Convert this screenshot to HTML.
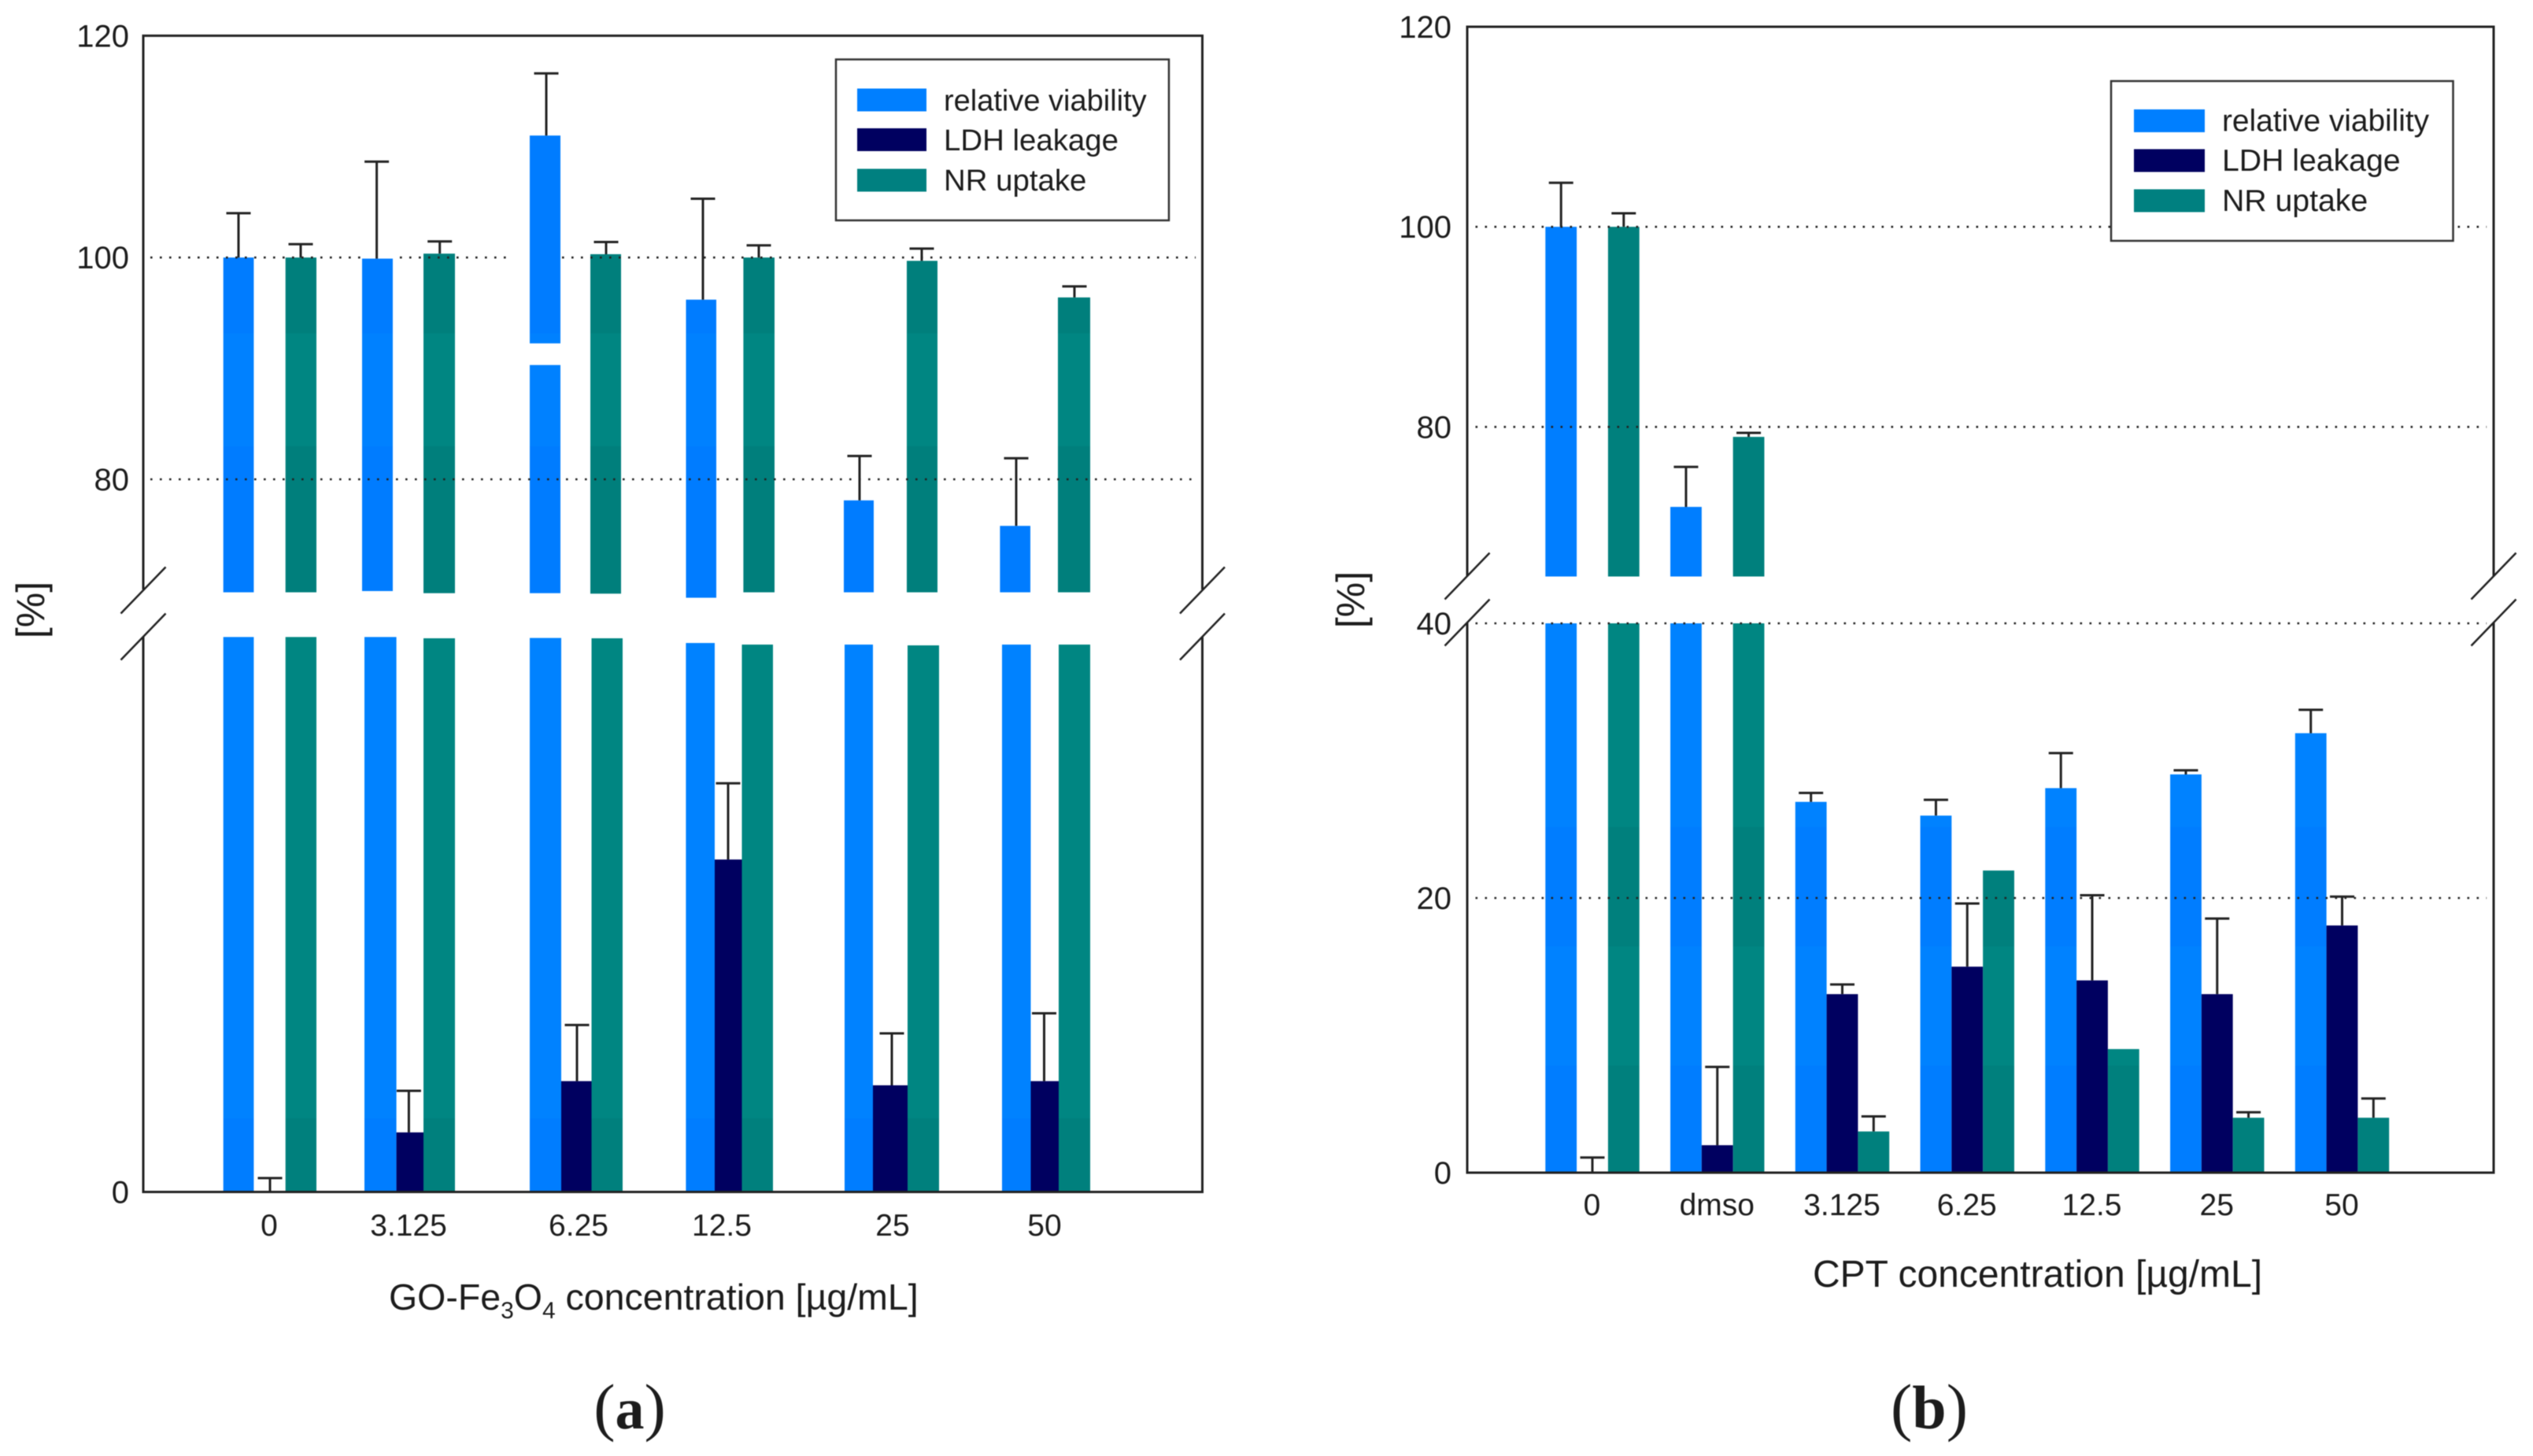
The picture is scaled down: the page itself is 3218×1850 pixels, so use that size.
<!DOCTYPE html>
<html lang="en">
<head>
<meta charset="utf-8">
<title>GO-Fe3O4 and CPT cytotoxicity charts</title>
<style>
html,body{margin:0;padding:0;background:#fff;width:3218px;height:1850px;overflow:hidden}
svg{display:block;filter:blur(0.6px)}
text{font-family:"Liberation Sans",Arial,sans-serif;fill:#1c1c1c}
</style>
</head>
<body>
<svg id="root" xmlns="http://www.w3.org/2000/svg" width="3218" height="1850" viewBox="0 0 3218 1850">
  <defs>
    <linearGradient id="blueA" gradientUnits="userSpaceOnUse" x1="0" y1="0" x2="0" y2="1850">
      <stop offset="0" stop-color="#007cff"/><stop offset="0.229" stop-color="#007cff"/>
      <stop offset="0.229" stop-color="#0081ff"/><stop offset="0.3065" stop-color="#0081ff"/>
      <stop offset="0.3065" stop-color="#007cff"/><stop offset="0.42" stop-color="#007cff"/>
      <stop offset="0.42" stop-color="#0082ff"/><stop offset="0.768" stop-color="#0082ff"/>
      <stop offset="0.768" stop-color="#007dff"/><stop offset="1" stop-color="#007dff"/>
    </linearGradient>
    <linearGradient id="tealA" gradientUnits="userSpaceOnUse" x1="0" y1="0" x2="0" y2="1850">
      <stop offset="0" stop-color="#007f7c"/><stop offset="0.229" stop-color="#007f7c"/>
      <stop offset="0.229" stop-color="#008682"/><stop offset="0.3065" stop-color="#008682"/>
      <stop offset="0.3065" stop-color="#007f7c"/><stop offset="0.42" stop-color="#007f7c"/>
      <stop offset="0.42" stop-color="#008682"/><stop offset="0.768" stop-color="#008682"/>
      <stop offset="0.768" stop-color="#00807d"/><stop offset="1" stop-color="#00807d"/>
    </linearGradient>
    <linearGradient id="blueB" gradientUnits="userSpaceOnUse" x1="0" y1="0" x2="0" y2="1850">
      <stop offset="0" stop-color="#007eff"/><stop offset="0.42" stop-color="#007eff"/>
      <stop offset="0.42" stop-color="#0082ff"/><stop offset="0.568" stop-color="#0082ff"/>
      <stop offset="0.568" stop-color="#007dff"/><stop offset="0.65" stop-color="#007dff"/>
      <stop offset="0.65" stop-color="#0082ff"/><stop offset="0.732" stop-color="#0082ff"/>
      <stop offset="0.732" stop-color="#007dff"/><stop offset="1" stop-color="#007dff"/>
    </linearGradient>
    <linearGradient id="tealB" gradientUnits="userSpaceOnUse" x1="0" y1="0" x2="0" y2="1850">
      <stop offset="0" stop-color="#00807d"/><stop offset="0.42" stop-color="#00807d"/>
      <stop offset="0.42" stop-color="#008682"/><stop offset="0.568" stop-color="#008682"/>
      <stop offset="0.568" stop-color="#00807d"/><stop offset="0.65" stop-color="#00807d"/>
      <stop offset="0.65" stop-color="#008682"/><stop offset="0.732" stop-color="#008682"/>
      <stop offset="0.732" stop-color="#00807d"/><stop offset="1" stop-color="#00807d"/>
    </linearGradient>
  </defs>

  <g id="panelA"></g>
  <g id="panelB"></g>

  <g>
    <text x="494" y="1664" font-size="46.5">GO-Fe<tspan font-size="30" dy="11">3</tspan><tspan dy="-11">O</tspan><tspan font-size="30" dy="11">4</tspan><tspan dy="-11"> concentration [µg/mL]</tspan></text>
    <text transform="translate(56,775) rotate(-90)" text-anchor="middle" font-size="50">[%]</text>
    <text x="800" y="1815" text-anchor="middle" font-size="82" style="font-family:'Liberation Serif',serif">(<tspan font-weight="bold" font-size="74">a</tspan>)</text>
  </g>
  <g>
    <text x="2303" y="1635" font-size="48">CPT concentration [µg/mL]</text>
    <text transform="translate(1733,762) rotate(-90)" text-anchor="middle" font-size="50">[%]</text>
    <text x="2451" y="1815" text-anchor="middle" font-size="82" style="font-family:'Liberation Serif',serif">(<tspan font-weight="bold" font-size="78">b</tspan>)</text>
  </g>

  <g>
    <rect x="1062" y="75.5" width="423" height="204.5" fill="#fff" stroke="#333" stroke-width="2.5"/>
    <rect x="1089" y="112.5" width="88" height="29" fill="#007fff"/>
    <rect x="1089" y="163" width="88" height="29" fill="#000060"/>
    <rect x="1089" y="214.5" width="88" height="29" fill="#008080"/>
    <text x="1199" y="140.5" font-size="38">relative viability</text>
    <text x="1199" y="191" font-size="38.4">LDH leakage</text>
    <text x="1199" y="242" font-size="38.4">NR uptake</text>
  </g>
  <g>
    <rect x="2682" y="103" width="434.5" height="203" fill="#fff" stroke="#333" stroke-width="2.5"/>
    <rect x="2711" y="139" width="90" height="29" fill="#007fff"/>
    <rect x="2711" y="189.5" width="90" height="29" fill="#000060"/>
    <rect x="2711" y="240.5" width="90" height="29" fill="#008080"/>
    <text x="2823" y="166.5" font-size="38.8">relative viability</text>
    <text x="2823" y="217" font-size="39.2">LDH leakage</text>
    <text x="2823" y="268" font-size="39.2">NR uptake</text>
  </g>
</svg>

<script>
// ---- Panel (a) data ----
const categoriesA = ['0', '3.125', '6.25', '12.5', '25', '50'];
const viabilityA = [100, 99.9, 111.0, 96.2, 78.1, 75.8];
const viabilityErrA = [4.0, 8.75, 5.6, 9.1, 4.0, 6.1];
const ldhA = [0, 4.3, 8.0, 24.0, 7.7, 8.0];
const ldhErrA = [1.0, 3.0, 4.05, 5.5, 3.75, 4.9];
const nrA = [100, 100.35, 100.3, 100, 99.7, 96.4];
const nrErrA = [1.2, 1.1, 1.1, 1.1, 1.1, 1.0];
const yTicksA = [120, 100, 80, 0];

// ---- Panel (b) data ----
const categoriesB = ['0', 'dmso', '3.125', '6.25', '12.5', '25', '50'];
const viabilityB = [100, 72, 27, 26, 28, 29, 32];
const viabilityErrB = [4.4, 4.0, 0.65, 1.15, 2.55, 0.3, 1.7];
const ldhB = [0, 2, 13, 15, 14, 13, 18];
const ldhErrB = [1.1, 5.7, 0.7, 4.6, 6.2, 5.5, 2.1];
const nrB = [100, 79, 3, 22, 9, 4, 4];
const nrErrB = [1.35, 0.4, 1.1, 0, 0, 0.4, 1.4];
const yTicksB = [120, 100, 80, 40, 20, 0];

const NS = 'http://www.w3.org/2000/svg';
const INK = '#222';

function shape(tag, parent, props) {
  const el = document.createElementNS(NS, tag);
  for (const k in props) el.setAttribute(k, props[k]);
  parent.appendChild(el);
  return el;
}

// Axis functions: one value scale above and one below the axis break.
function makeYScale(y100, pxUpper, y0, pxLower) {
  return function (v) {
    return v > 40 ? y100 + (100 - v) * pxUpper : y0 - v * pxLower;
  };
}
const yA = makeYScale(327.2, 14.09, 1514.5, 17.6);
const yB = makeYScale(288.2, 12.71, 1490, 17.45);

// Horizontal layout of panel (a): the source figure's groups are hand-placed,
// so this scale carries a layout table per group and series.
function layoutA(i) {
  const lowerEdges = [[283.7,322.4,362.7,402],[463,503.6,538,578],[673,713,751.5,791],[871.4,908,942.5,982],[1073,1109,1153,1193],[1273,1309.5,1345,1385]];
  const upperEdges = [[283.7,322.4,362.7,402],[460,499,538,578],[673,712,750,789],[871.5,910,944.4,984],[1072,1110,1152,1191],[1270.4,1309,1344,1385]];
  const errX = [[303,343,382],[478.6,519.4,558.7],[694,733,770],[893,925,964],[1092,1133,1171],[1291,1326.5,1365]];
  const tickX = [342,519,735,917,1134,1327];
  const endsUpper = [[752.6,752.6],[751,753.7],[753.7,754.3],[759.5,752.6],[752.6,752.6],[752.6,752.6]];
  const startsLower = [[809.4,809.4],[809.4,811],[810.6,811],[817,819],[819,820],[819,819]];
  return { lower: lowerEdges[i], upper: upperEdges[i], err: errX[i], tick: tickX[i], ends: endsUpper[i], starts: startsLower[i] };
}

// Horizontal layout of panel (b): a regular band scale.
function layoutB(i) {
  const left = 1963.3 + i * 158.75, w = 39.8;
  const edges = [left, left + w, left + 2 * w, left + 3 * w];
  return { lower: edges, upper: edges, err: [left + w / 2, left + 1.5 * w, left + 2.5 * w], tick: left + 1.5 * w - 0.5, ends: [732.5, 732.5], starts: [yB(40), yB(40)] };
}

// Returns the rects for one bar, split across the axis break when needed.
function barRects(g, v, y, base, x0, x1, ux0, ux1, end, start, fill) {
  const out = [];
  if (v <= 0) return out;
  if (v > 40) {
    out.push(shape('rect', g, { x: x0, y: start, width: x1 - x0, height: base - start, fill: fill }));
    out.push(shape('rect', g, { x: ux0, y: y(v), width: ux1 - ux0, height: end - y(v), fill: fill }));
  } else {
    out.push(shape('rect', g, { x: x0, y: y(v), width: x1 - x0, height: base - y(v), fill: fill }));
  }
  return out;
}

function errorBar(g, x, v, e, y, capHalf) {
  const p = document.createElementNS(NS, 'path');
  const top = y(v + e), bot = y(v);
  p.setAttribute('d', 'M' + x + ' ' + bot + 'V' + top + 'M' + (x - capHalf) + ' ' + top + 'H' + (x + capHalf));
  p.setAttribute('stroke', INK);
  p.setAttribute('stroke-width', '3');
  p.setAttribute('fill', 'none');
  g.appendChild(p);
  return p;
}

function drawPanel(g, cfg) {
  const y = cfg.y, base = y(0);
  cfg.categories.forEach(function (cat, i) {
    const L = cfg.layout(i);

    barRects(g, cfg.viability[i], y, base, L.lower[0], L.lower[1], L.upper[0], L.upper[1], L.ends[0], L.starts[0], cfg.blue).forEach(function (el) {
      
      
    });
    barRects(g, cfg.ldh[i], y, base, L.lower[1], L.lower[2], L.lower[1], L.lower[2], L.ends[0], L.starts[0], '#000060').forEach(function (el) {
      
      
    });
    barRects(g, cfg.nr[i], y, base, L.lower[2], L.lower[3], L.upper[2], L.upper[3], L.ends[1], L.starts[1], cfg.teal).forEach(function (el) {
      
      
    });

    if (cfg.viabilityErr[i] > 0) {
      const eb = errorBar(g, L.err[0], cfg.viability[i], cfg.viabilityErr[i], y, 15.5);
      
      
    }
    if (cfg.ldhErr[i] > 0) {
      const eb = errorBar(g, L.err[1], cfg.ldh[i], cfg.ldhErr[i], y, 15.5);
      
      
    }
    if (cfg.nrErr[i] > 0) {
      const eb = errorBar(g, L.err[2], cfg.nr[i], cfg.nrErr[i], y, 15.5);
      
      
    }

    const t = shape('text', g, { x: L.tick, y: cfg.xTickY, 'text-anchor': 'middle', 'font-size': 39 });
    t.textContent = cat;
    
    
  });

  // frame with the break gap on both vertical sides
  const frame = shape('path', g, {
    d: 'M' + cfg.left + ' ' + cfg.breakTop + 'V' + y(120) + 'H' + cfg.right + 'V' + cfg.breakTop +
       'M' + cfg.left + ' ' + cfg.breakBottom + 'V' + base + 'H' + cfg.right + 'V' + cfg.breakBottom,
    fill: 'none', stroke: INK, 'stroke-width': 3
  });
  
  

  // break marks
  [cfg.left, cfg.right].forEach(function (ax) {
    [cfg.breakMarkY1, cfg.breakMarkY2].forEach(function (my) {
      const m = shape('line', g, { x1: ax - 28.5, y1: my + 29.5, x2: ax + 28.5, y2: my - 29.5, stroke: INK, 'stroke-width': 2.5 });
      
      
    });
  });

  // y ticks + dotted grid
  cfg.yTicks.forEach(function (v) {
    const t = shape('text', g, { x: cfg.left - cfg.tickGap, y: y(v) + 14, 'text-anchor': 'end', 'font-size': 40 });
    t.textContent = String(v);
    
    
    if (v === 0 || v === 120) return;
    (cfg.gridSpans(v)).forEach(function (sp) {
      const gl = shape('line', g, { x1: sp[0], y1: y(v), x2: sp[1], y2: y(v), stroke: '#222', 'stroke-width': 2.6, 'stroke-dasharray': '2.6 9.4' });
      
      
    });
  });
}

drawPanel(document.getElementById('panelA'), {
  categories: categoriesA, viability: viabilityA, viabilityErr: viabilityErrA,
  ldh: ldhA, ldhErr: ldhErrA, nr: nrA, nrErr: nrErrA, yTicks: yTicksA,
  y: yA, layout: layoutA, blue: 'url(#blueA)', teal: 'url(#tealA)',
  left: 182, right: 1527.5, breakTop: 749, breakBottom: 809, tickGap: 18,
  breakMarkY1: 750, breakMarkY2: 809, xTickY: 1570,
  gridSpans: function (v) { return v === 100 ? [[191, 459], [508, 652], [714, 1519]] : [[191, 1519]]; }
});

// white notch across the 6.25 relative-viability bar in panel (a)
(function () {
  const gap = shape('rect', document.getElementById('panelA'), { x: 668, y: 436.3, width: 48, height: 27.5, fill: '#fff' });
  
  
})();

drawPanel(document.getElementById('panelB'), {
  categories: categoriesB, viability: viabilityB, viabilityErr: viabilityErrB,
  ldh: ldhB, ldhErr: ldhErrB, nr: nrB, nrErr: nrErrB, yTicks: yTicksB,
  y: yB, layout: layoutB, blue: 'url(#blueB)', teal: 'url(#tealB)',
  left: 1864, right: 3168, breakTop: 732.5, breakBottom: 791, tickGap: 20,
  breakMarkY1: 732, breakMarkY2: 791, xTickY: 1544,
  gridSpans: function () { return [[1874.5, 3159]]; }
});
</script>
</body>
</html>
